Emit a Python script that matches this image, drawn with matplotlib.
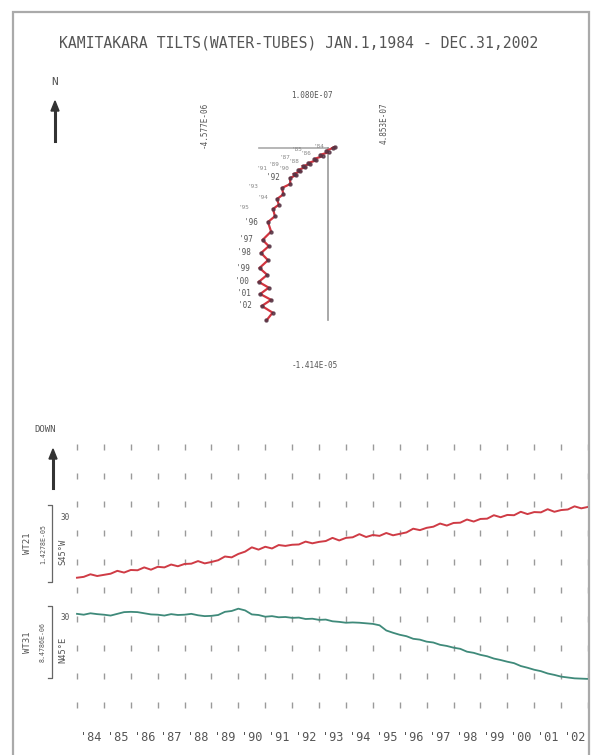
import matplotlib
matplotlib.use("Agg")
import matplotlib.pyplot as plt
import numpy as np
from matplotlib.patches import Rectangle

W, H = 591, 755

# --- time series (quarterly readings, units = grid rows) ---
years_q = [1984 + 0.25 * i for i in range(77)]
wt21 = [4.44, 4.47, 4.56, 4.50, 4.54, 4.58, 4.68, 4.62, 4.71, 4.70, 4.80, 4.72,
        4.82, 4.80, 4.90, 4.84, 4.92, 4.93, 5.02, 4.94, 4.99, 5.05, 5.18, 5.15,
        5.27, 5.35, 5.50, 5.42, 5.52, 5.46, 5.58, 5.55, 5.59, 5.60, 5.70, 5.64,
        5.69, 5.72, 5.83, 5.74, 5.83, 5.85, 5.96, 5.86, 5.93, 5.90, 6.00, 5.92,
        5.97, 6.02, 6.15, 6.10, 6.18, 6.22, 6.33, 6.26, 6.35, 6.36, 6.47, 6.40,
        6.49, 6.50, 6.62, 6.55, 6.63, 6.62, 6.74, 6.66, 6.73, 6.72, 6.83, 6.74,
        6.80, 6.82, 6.93, 6.86, 6.91]
wt31 = [3.18, 3.15, 3.20, 3.17, 3.15, 3.12, 3.18, 3.24, 3.25, 3.24, 3.20, 3.16,
        3.15, 3.12, 3.17, 3.14, 3.15, 3.18, 3.13, 3.10, 3.11, 3.14, 3.25, 3.28,
        3.36, 3.30, 3.16, 3.14, 3.08, 3.10, 3.06, 3.07, 3.04, 3.05, 3.00, 3.01,
        2.97, 2.98, 2.92, 2.90, 2.87, 2.88, 2.87, 2.85, 2.83, 2.78, 2.60, 2.52,
        2.45, 2.40, 2.31, 2.28, 2.21, 2.18, 2.10, 2.06, 2.00, 1.96, 1.86, 1.82,
        1.75, 1.70, 1.62, 1.57, 1.51, 1.46, 1.36, 1.30, 1.23, 1.18, 1.10, 1.05,
        0.99, 0.96, 0.93, 0.92, 0.91]
grid_years = list(range(1984, 2004))
grid_rows = list(range(0, 10))
year_labels = ["'84", "'85", "'86", "'87", "'88", "'89", "'90", "'91", "'92", "'93",
               "'94", "'95", "'96", "'97", "'98", "'99", "'00", "'01", "'02"]

# --- hodograph (half-year readings, 1e-6 units) ---
hodo_t = [1984 + 0.5 * i for i in range(39)]
hodo_e = [0.30, 0.48, -0.13, 0.05, -0.52, -0.35, -0.91, -0.75, -1.30, -1.15,
          -1.62, -1.50, -1.95, -1.80, -2.21, -2.10, -2.47, -2.45, -2.99, -2.90,
          -3.31, -3.20, -3.57, -3.45, -3.90, -3.70, -4.25, -3.85, -4.35, -3.90,
          -4.45, -3.95, -4.50, -3.85, -4.40, -3.70, -4.30, -3.60, -4.00]
hodo_n = [0.00, 0.10, -0.25, -0.35, -0.57, -0.68, -0.90, -1.02, -1.23, -1.30,
          -1.48, -1.60, -1.80, -1.92, -2.13, -2.25, -2.46, -2.95, -3.28, -3.80,
          -4.18, -4.65, -5.00, -5.60, -6.07, -6.85, -7.54, -8.05, -8.61, -9.20,
          -9.84, -10.40, -10.98, -11.45, -11.97, -12.45, -12.95, -13.50, -14.14]
hodo_limits = {"top": "1.080E-07", "bottom": "-1.414E-05",
               "left": "-4.577E-06", "right": "4.853E-07"}


def fx(x):
    return x / W


def fy(y):
    return 1 - y / H


mono = "DejaVu Sans Mono"
txt = "#555555"

fig = plt.figure(figsize=(W / 100, H / 100), dpi=100)
fig.patch.set_facecolor("white")

# frame
fig.add_artist(Rectangle((fx(13), fy(762)), fx(589) - fx(13), fy(12) - fy(762),
                         transform=fig.transFigure, fill=False,
                         edgecolor="#aaaaaa", lw=1.6))

fig.text(fx(299), fy(43), "KAMITAKARA TILTS(WATER-TUBES) JAN.1,1984 - DEC.31,2002",
         ha="center", va="center", family=mono, fontsize=10.6, color=txt)

# north arrow
fig.text(fx(55), fy(82), "N", ha="center", va="center", family=mono, fontsize=8, color=txt)
fig.add_artist(plt.Line2D([fx(55), fx(55)], [fy(141), fy(110)], transform=fig.transFigure,
                          color="#333333", lw=2.2))
fig.add_artist(plt.Polygon([[fx(51), fy(111)], [fx(59), fy(111)], [fx(55), fy(101)]],
                           transform=fig.transFigure, color="#333333"))

# ---------------- hodograph ----------------
hx0, hx1, hy0, hy1 = 150, 430, 80, 380
axh = fig.add_axes([fx(hx0), fy(hy1), fx(hx1) - fx(hx0), fy(hy0) - fy(hy1)])
axh.set_xlim(-11.56, 6.62)
axh.set_ylim(-19.02, 5.57)
axh.axis("off")

e_min = min(hodo_e)
n_min = min(hodo_n)
axh.plot([e_min, 0], [0, 0], color="#aaaaaa", lw=1.2)
axh.plot([0, 0], [0, n_min], color="#999999", lw=1.2)
axh.plot(hodo_e, hodo_n, color="#d2343f", lw=1.6, solid_joinstyle="miter")
axh.plot(hodo_e, hodo_n, ls="none", marker="o", ms=2.2, color="#553344", alpha=0.8)

for i in range(0, 38, 2):
    k = i // 2
    lab = year_labels[k]
    early = hodo_t[i] < 1996
    if lab == "'91":
        axh.annotate(lab, (hodo_e[i], hodo_n[i]), xytext=(-19, 4), textcoords="offset points",
                     ha="right", va="center", family=mono, fontsize=4.3, color="#888888")
    elif early and lab != "'92":
        # crowded years: small grey labels, staggered left so they do not collide
        off = -6 if k % 2 == 0 else -17
        axh.annotate(lab, (hodo_e[i], hodo_n[i]), xytext=(off, 1), textcoords="offset points",
                     ha="right", va="center", family=mono, fontsize=4.3, color="#888888")
    else:
        axh.annotate(lab, (hodo_e[i], hodo_n[i]), xytext=(-7, 0), textcoords="offset points",
                     ha="right", va="center", family=mono, fontsize=5.5, color="#555555")

fig.text(fx(312), fy(96), hodo_limits["top"], ha="center", va="center",
         family=mono, fontsize=5.5, color=txt)
fig.text(fx(315), fy(365), hodo_limits["bottom"], ha="center", va="center",
         family=mono, fontsize=5.5, color=txt)
fig.text(fx(204), fy(125), hodo_limits["left"], ha="center", va="center", rotation=90,
         family=mono, fontsize=5.5, color=txt)
fig.text(fx(384), fy(123), hodo_limits["right"], ha="center", va="center", rotation=90,
         family=mono, fontsize=5.5, color=txt)

# ---------------- time series ----------------
tx0, tx1, ty0, ty1 = 77, 588, 440, 712
axt = fig.add_axes([fx(tx0), fy(ty1), fx(tx1) - fx(tx0), fy(ty0) - fy(ty1)])
axt.set_xlim(1984, 2003)
axt.set_ylim(-0.244, 9.244)
axt.axis("off")

gx, gy = np.meshgrid(grid_years, grid_rows)
axt.plot(gx.ravel(), gy.ravel(), ls="none", marker="|", ms=4, mew=1.0,
         color="#9a9a9a", clip_on=False)
axt.plot(years_q, wt21, color="#cf3b45", lw=1.4, clip_on=False)
axt.plot(years_q, wt31, color="#3f8a7a", lw=1.3, clip_on=False)

for i, lab in enumerate(year_labels):
    axt.text(grid_years[i] + 0.5, -1.15, lab, ha="center", va="center",
             family=mono, fontsize=8.6, color=txt)

# DOWN arrow
fig.text(fx(45), fy(430), "DOWN", ha="center", va="center", family=mono, fontsize=6.5, color=txt)
fig.add_artist(plt.Line2D([fx(53), fx(53)], [fy(488), fy(458)], transform=fig.transFigure,
                          color="#333333", lw=2.2))
fig.add_artist(plt.Polygon([[fx(49), fy(459)], [fx(57), fy(459)], [fx(53), fy(449)]],
                           transform=fig.transFigure, color="#333333"))


def bracket(y_top, y_bot, name, scale, direc):
    xb = 52
    fig.add_artist(plt.Line2D([fx(xb - 4), fx(xb), fx(xb), fx(xb - 4)],
                              [fy(y_top), fy(y_top), fy(y_bot), fy(y_bot)],
                              transform=fig.transFigure, color="#666666", lw=0.9))
    yc = (y_top + y_bot) / 2
    fig.text(fx(27), fy(yc), name, rotation=90, ha="center", va="center",
             family=mono, fontsize=6.5, color=txt)
    fig.text(fx(43), fy(yc), scale, rotation=90, ha="center", va="center",
             family=mono, fontsize=4.8, color=txt)
    fig.text(fx(63), fy(yc + 8), direc, rotation=90, ha="center", va="center",
             family=mono, fontsize=6.3, color=txt)
    fig.text(fx(65), fy(y_top + 12), "30", ha="center", va="center",
             family=mono, fontsize=5.5, color=txt)


bracket(505, 582, "WT21", "1.4278E-05", "S45°W")
bracket(606, 678, "WT31", "8.4786E-06", "N45°E")

fig.savefig("out.png", dpi=100, facecolor="white")
